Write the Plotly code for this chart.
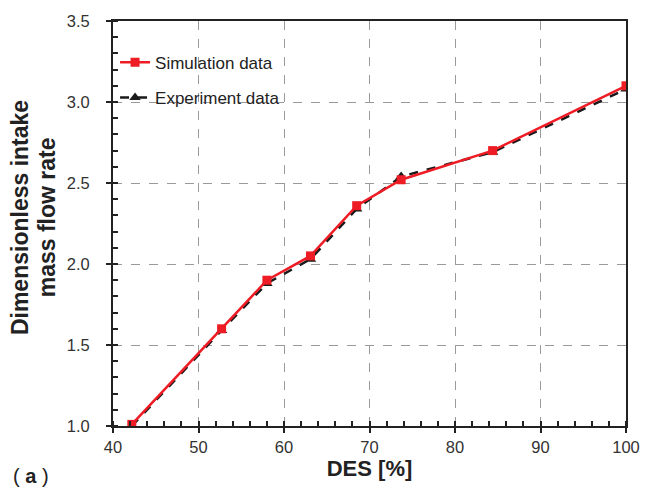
import plotly.graph_objects as go

des = [42.2, 52.7, 58.0, 63.1, 68.5, 73.7, 84.4, 100.0]
sim = [1.01, 1.60, 1.90, 2.05, 2.36, 2.52, 2.70, 3.10]
exp_ = [1.00, 1.59, 1.88, 2.03, 2.34, 2.54, 2.69, 3.08]

fig = go.Figure()
fig.add_trace(go.Scatter(
    x=des, y=exp_, name="Experiment data", mode="lines+markers",
    line=dict(color="#1a1a1a", width=2.5, dash="dash"),
    marker=dict(symbol="triangle-up", size=10, color="#1a1a1a"),
    legend="legend2",
))
fig.add_trace(go.Scatter(
    x=des, y=sim, name="Simulation data", mode="lines+markers",
    line=dict(color="#ee1c25", width=2.5),
    marker=dict(symbol="square", size=9, color="#ee1c25"),
    legend="legend",
))

axis_common = dict(
    showline=True, linecolor="#222", linewidth=2, mirror=True,
    showgrid=True, gridcolor="#9a9a9a", griddash="dash", gridwidth=1,
    ticks="outside", ticklen=5, tickcolor="#222", tickwidth=2,
    tickfont=dict(family="Liberation Sans, Arial", size=16.5, color="#333"),
    zeroline=False,
)

leg_font = dict(family="Liberation Sans, Arial", size=17, color="#222")
fig.update_layout(
    width=652, height=490,
    margin=dict(l=113, r=26, t=19, b=64),
    paper_bgcolor="white", plot_bgcolor="white",
    showlegend=True,
    legend=dict(x=0.004, y=0.897, xanchor="left", yanchor="middle",
                font=leg_font, bgcolor="rgba(0,0,0,0)", itemwidth=30),
    legend2=dict(x=0.004, y=0.81, xanchor="left", yanchor="middle",
                 font=leg_font, bgcolor="rgba(0,0,0,0)", itemwidth=30),
    xaxis=dict(range=[40, 100], dtick=10, tick0=40,
               minor=dict(dtick=2, ticks="inside", ticklen=5, tickcolor="#222", tickwidth=1.5, showgrid=False),
               title=dict(text="<b>DES [%]</b>", font=dict(family="Liberation Sans, Arial", size=22, color="#222"), standoff=4),
               **axis_common),
    yaxis=dict(range=[1.0, 3.5], dtick=0.5, tick0=1.0, tickformat=".1f",
               ticklabelstandoff=13,
               minor=dict(dtick=0.1, ticks="inside", ticklen=5, tickcolor="#222", tickwidth=1.5, showgrid=False),
               **axis_common),
)

title_font = dict(family="Liberation Sans, Arial", size=23, color="#222")
fig.add_annotation(text="<b>Dimensionless intake</b>", xref="paper", yref="paper",
                   x=-0.18, y=0.515, xanchor="center", yanchor="middle", textangle=-90,
                   showarrow=False, font=title_font)
fig.add_annotation(text="<b>mass flow rate</b>", xref="paper", yref="paper",
                   x=-0.127, y=0.515, xanchor="center", yanchor="middle", textangle=-90,
                   showarrow=False, font=title_font)

fig.add_annotation(text="( <b>a</b> )", xref="paper", yref="paper", x=-0.198, y=-0.123,
                   xanchor="left", yanchor="middle", showarrow=False,
                   font=dict(family="Liberation Sans, Arial", size=20, color="#222"))

fig.write_html("out.html")
